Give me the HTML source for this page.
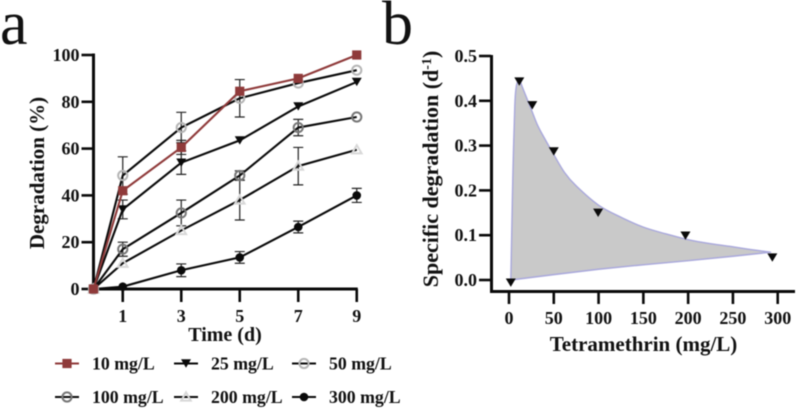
<!DOCTYPE html>
<html><head><meta charset="utf-8"><title>Degradation chart</title>
<style>
html,body{margin:0;padding:0;background:#fff;width:796px;height:409px;overflow:hidden}
svg{display:block;filter:blur(0.4px)}
text{font-family:"Liberation Serif",serif;font-weight:bold;fill:#111}
</style></head>
<body>
<svg id="chart" width="796" height="409" viewBox="0 0 796 409" xmlns="http://www.w3.org/2000/svg">
<text x="0" y="44" style="font-size:62px;font-weight:normal">a</text>
<text x="382" y="44" style="font-size:62px;font-weight:normal">b</text>
<text transform="translate(44,173) rotate(-90)" text-anchor="middle" style="font-size:21px">Degradation (%)</text>
<text x="225" y="341" text-anchor="middle" style="font-size:20px">Time (d)</text>
<text transform="translate(438,169) rotate(-90)" text-anchor="middle" style="font-size:22px">Specific degradation (d<tspan dy="-7" style="font-size:14px">-1</tspan><tspan dy="7">)</tspan></text>
<text x="643.5" y="351" text-anchor="middle" style="font-size:21px">Tetramethrin (mg/L)</text>
<g id="panel-a"></g>
<g id="panel-b"></g>
<g id="legend"></g>
</svg>
<script>
// Panel a data
const days = [0, 1, 3, 5, 7, 9];
const timeTicks = [1, 3, 5, 7, 9];
const percentTicks = [0, 20, 40, 60, 80, 100];
const seriesNames = ['10 mg/L', '25 mg/L', '50 mg/L', '100 mg/L', '200 mg/L', '300 mg/L'];
const values10 = [0, 42, 60.5, 84.5, 90, 100];
const values25 = [0, 34, 54, 63.5, 78, 88.5];
const values50 = [0, 48.5, 69, 81.5, 88, 93.5];
const values100 = [0, 17, 32.5, 48.5, 69, 73.5];
const values200 = [0, 11, 25, 38, 52.5, 59.5];
const values300 = [0, 1, 8, 13.5, 26.5, 40];
const errors10 = [0, 0, 3, 0, 0, 0];
const errors25 = [0, 4, 5, 0, 0, 0];
const errors50 = [0, 8, 6.5, 8, 0, 0];
const errors100 = [0, 3, 5.5, 2, 3.5, 0];
const errors200 = [0, 0, 0, 8.5, 8, 0];
const errors300 = [0, 0, 2.7, 2.5, 2.5, 3];
// Panel b data
const concTicks = [0, 50, 100, 150, 200, 250, 300];
const rateTicks = [0, 0.1, 0.2, 0.3, 0.4, 0.5];
const rateTickLabels = ['0.0', '0.1', '0.2', '0.3', '0.4', '0.5'];
const pointConc = [2, 11.5, 26, 50, 99.5, 197, 294];
const pointRate = [-0.006, 0.443, 0.39, 0.287, 0.15, 0.099, 0.05];
const upperConc = [2, 3, 4.5, 6.5, 8, 10, 12, 15, 20, 25, 32, 40, 50, 62, 75, 100, 125, 150, 175, 200, 225, 250, 270, 292];
const upperRate = [0, 0.1, 0.25, 0.39, 0.43, 0.444, 0.445, 0.43, 0.405, 0.38, 0.345, 0.315, 0.28, 0.24, 0.21, 0.167, 0.14, 0.118, 0.103, 0.09, 0.081, 0.074, 0.068, 0.062];
const lowerConc = [2, 50, 100, 150, 200, 250, 292];
const lowerRate = [0, 0.012, 0.024, 0.034, 0.043, 0.053, 0.062];

const NS = 'http://www.w3.org/2000/svg';
function mk(parent, tag, attrs) {
  const el = document.createElementNS(NS, tag);
  for (const k in attrs) el.setAttribute(k, attrs[k]);
  parent.appendChild(el);
  return el;
}
const xA = t => 93.5 + 29.25 * t;
const yA = v => 289 - 2.34 * v;
const xB = c => 509 + 0.8957 * c;
const yB = r => 280 - 448 * r;
const INK = '#0a0a0a';

function smoothPath(xs, ys) {
  let d = `M${xs[0]},${ys[0]}`;
  for (let i = 0; i < xs.length - 1; i++) {
    const p = Math.max(i - 1, 0), n = Math.min(i + 2, xs.length - 1);
    const c1x = xs[i] + (xs[i + 1] - xs[p]) / 6, c1y = ys[i] + (ys[i + 1] - ys[p]) / 6;
    const c2x = xs[i + 1] - (xs[n] - xs[i]) / 6, c2y = ys[i + 1] - (ys[n] - ys[i]) / 6;
    d += `C${c1x},${c1y} ${c2x},${c2y} ${xs[i + 1]},${ys[i + 1]}`;
  }
  return d;
}

function marker(g, kind, x, y) {
  let el;
  if (kind === 'square') {
    el = mk(g, 'rect', {x: x - 4.6, y: y - 4.6, width: 9.2, height: 9.2, fill: '#8f3a3a'});
  } else if (kind === 'down') {
    el = mk(g, 'path', {d: `M${x - 5},${y - 4.2}H${x + 5}L${x},${y + 4.2}Z`, fill: INK});
  } else if (kind === 'circleLight') {
    el = mk(g, 'circle', {cx: x, cy: y, r: 4.6, fill: 'none', stroke: '#b5b5b5', 'stroke-width': 2});
  } else if (kind === 'circleDark') {
    el = mk(g, 'circle', {cx: x, cy: y, r: 4.6, fill: 'none', stroke: '#777', 'stroke-width': 2});
  } else if (kind === 'triangle') {
    el = mk(g, 'path', {d: `M${x},${y - 4.6}L${x + 4.8},${y + 3.6}H${x - 4.8}Z`, fill: 'none', stroke: '#d8d8d8', 'stroke-width': 2});
  } else {
    el = mk(g, 'circle', {cx: x, cy: y, r: 4.3, fill: INK});
  }
  return el;
}

const seriesValues = [values10, values25, values50, values100, values200, values300];
const seriesErrors = [errors10, errors25, errors50, errors100, errors200, errors300];
const kinds = ['square', 'down', 'circleLight', 'circleDark', 'triangle', 'dot'];
const colors = ['#8f3a3a', INK, INK, INK, INK, INK];
const drawOrder = [5, 4, 3, 2, 1, 0];

// Panel a
const a = document.getElementById('panel-a');
const axisA = mk(a, 'path', {d: `M${xA(0)},${yA(100) - 1.5}V${yA(0) + 1.5}M${xA(0)},${yA(0)}H${xA(9) + 1}`, stroke: INK, 'stroke-width': 3, fill: 'none'});


percentTicks.forEach(v => {
  const t = mk(a, 'line', {x1: xA(0) - 12, x2: xA(0), y1: yA(v), y2: yA(v), stroke: INK, 'stroke-width': 2.6});
  
  
  const l = mk(a, 'text', {x: xA(0) - 14, y: yA(v) + 6, 'text-anchor': 'end', style: 'font-size:18px'});
  l.textContent = v;
  
  
});
timeTicks.forEach(v => {
  const t = mk(a, 'line', {x1: xA(v), x2: xA(v), y1: yA(0), y2: yA(0) + 13, stroke: INK, 'stroke-width': 2.6});
  
  
  const l = mk(a, 'text', {x: xA(v), y: yA(0) + 33, 'text-anchor': 'middle', style: 'font-size:18px'});
  l.textContent = v;
  
  
});
drawOrder.forEach(i => {
  const g = mk(a, 'g', {});
  
  
  days.forEach((d, j) => {
    const e = seriesErrors[i][j];
    if (!e) return;
    const x = xA(d);
    const y1 = yA(seriesValues[i][j] - e), y2 = yA(seriesValues[i][j] + e);
    const bar = mk(g, 'path', {d: `M${x},${y1}V${y2}M${x - 5},${y1}h10M${x - 5},${y2}h10`, stroke: '#222', 'stroke-width': 1.2, fill: 'none'});
    
    
  });
});
drawOrder.forEach(i => {
  const pts = days.map((d, j) => xA(d) + ',' + yA(seriesValues[i][j])).join(' ');
  const line = mk(a, 'polyline', {points: pts, fill: 'none', stroke: colors[i], 'stroke-width': 2.1});
  
  
  days.forEach((d, j) => {
    const m = marker(a, kinds[i], xA(d), yA(seriesValues[i][j]));
    
    
  });
});

// Panel b
const b = document.getElementById('panel-b');
const upD = smoothPath(upperConc.map(xB), upperRate.map(yB));
const lowX = lowerConc.map(xB).reverse(), lowY = lowerRate.map(yB).reverse();
const lowD = lowX.map((x, i) => `L${x},${lowY[i]}`).join('');
const area = mk(b, 'path', {d: upD + lowD + 'Z', fill: '#c9c9c9', stroke: '#a9a8dc', 'stroke-width': 1.4, 'stroke-linejoin': 'round'});


pointConc.forEach((c, i) => {
  const m = marker(b, 'down', xB(c), yB(pointRate[i]));
  
  
});
const axisB = mk(b, 'path', {d: `M491.5,55V291.5M490,291.5H795`, stroke: INK, 'stroke-width': 3, fill: 'none'});


rateTicks.forEach((v, i) => {
  const t = mk(b, 'line', {x1: 479, x2: 491, y1: yB(v), y2: yB(v), stroke: INK, 'stroke-width': 2.6});
  
  
  const l = mk(b, 'text', {x: 477, y: yB(v) + 6, 'text-anchor': 'end', style: 'font-size:18px'});
  l.textContent = rateTickLabels[i];
  
  
});
concTicks.forEach(v => {
  const t = mk(b, 'line', {x1: xB(v), x2: xB(v), y1: 291, y2: 304, stroke: INK, 'stroke-width': 2.6});
  
  
  const l = mk(b, 'text', {x: xB(v), y: 324, 'text-anchor': 'middle', style: 'font-size:18px'});
  l.textContent = v;
  
  
});

// Legend
const lg = document.getElementById('legend');
const legendCols = [67, 186, 304];
const legendRows = [363.5, 397];
seriesNames.forEach((name, i) => {
  const cx = legendCols[i % 3], cy = legendRows[Math.floor(i / 3)];
  const g = mk(lg, 'g', {});
  
  
  mk(g, 'line', {x1: cx - 12, x2: cx + 12, y1: cy, y2: cy, stroke: colors[i], 'stroke-width': 2});
  marker(g, kinds[i], cx, cy);
  const t = mk(g, 'text', {x: cx + 25, y: cy + 6, style: 'font-size:17.8px'});
  t.textContent = name;
});
</script>
</body></html>
